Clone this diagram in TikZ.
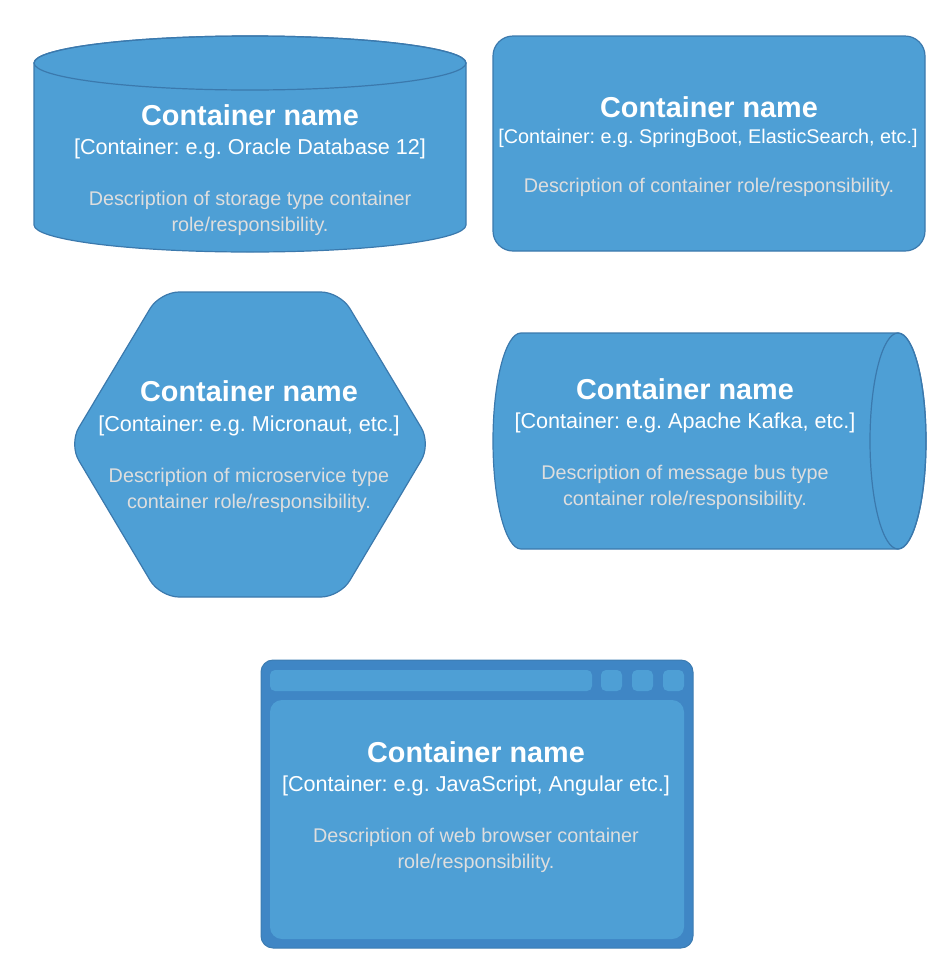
\documentclass[tikz,border=0pt]{standalone}
\usepackage{fontspec}
\setmainfont{Liberation Sans}
\frenchspacing
\definecolor{boxfill}{HTML}{4E9FD5}
\definecolor{boxline}{HTML}{3B79AD}
\definecolor{winfill}{HTML}{3F86C5}
\definecolor{descgray}{HTML}{DEDEDE}
\tikzset{
  shapebox/.style={fill=boxfill, draw=boxline, line width=1.2pt},
  ttl/.style={anchor=base, inner sep=0pt, text=white, font=\fontsize{28.8}{32}\selectfont\bfseries},
  tech/.style={anchor=base, inner sep=0pt, text=white, font=\fontsize{21.6}{24}\selectfont},
  techsmall/.style={tech, font=\fontsize{19.8}{22}\selectfont},
  desc/.style={anchor=base, inner sep=0pt, text=descgray, font=\fontsize{19.8}{22}\selectfont},
  winpart/.style={fill=boxfill, draw=none},
}
\begin{document}
\begin{tikzpicture}[x=1pt,y=-1pt]
\useasboundingbox (0,0) rectangle (940,970);

% ---------- storage cylinder ----------
\path[shapebox] (34,63) -- (34,225) arc[start angle=180, end angle=0, x radius=216, y radius=27]
  -- (466,63) arc[start angle=0, end angle=-180, x radius=216, y radius=27] -- cycle;
\draw[boxline, line width=1.2pt] (250,63) ellipse [x radius=216, y radius=27];
\node[ttl]  (dbtitle) at (250,125) {Container name};
\node[tech] (dbtech)  at (250,154) {[Container: e.g. Oracle Database 12]};
\node[desc] (dbdesca) at (250,205) {Description of storage type container};
\node[desc] (dbdescb) at (250,231) {role/responsibility.};

% ---------- rounded rectangle ----------
\draw[shapebox, rounded corners=20pt] (493,36) rectangle (925,251);
\node[ttl]  (svtitle) at (709,117) {Container name};
\node[techsmall] (svtech)  at (708,143) {[Container: e.g. SpringBoot, ElasticSearch, etc.]};
\node[desc] (svdesc)  at (709,192) {Description of container role/responsibility.};

% ---------- hexagon ----------
\draw[shapebox, rounded corners=19pt] (69,444) -- (160,292) -- (340,292) -- (431,444)
  -- (340,597) -- (160,597) -- cycle;
\node[ttl]  (mstitle) at (249,401) {Container name};
\node[tech] (mstech)  at (249,431) {[Container: e.g. Micronaut, etc.]};
\node[desc] (msdesca) at (249,482) {Description of microservice type};
\node[desc] (msdescb) at (249,508) {container role/responsibility.};

% ---------- horizontal cylinder ----------
\path[shapebox] (521,333) -- (898,333) arc[start angle=-90, end angle=90, x radius=28, y radius=108]
  -- (521,549) arc[start angle=90, end angle=270, x radius=28, y radius=108] -- cycle;
\draw[boxline, line width=1.2pt] (898,441) ellipse [x radius=28, y radius=108];
\node[ttl]  (mqtitle) at (685,399) {Container name};
\node[tech] (mqtech)  at (685,428) {[Container: e.g. Apache Kafka, etc.]};
\node[desc] (mqdesca) at (685,479) {Description of message bus type};
\node[desc] (mqdescb) at (685,505) {container role/responsibility.};

% ---------- web browser ----------
\draw[fill=winfill, draw=boxline!80!winfill, line width=1pt, rounded corners=12pt] (261,660) rectangle (693,948);
\fill[winpart, rounded corners=5pt] (270,670) rectangle (592,691);
\fill[winpart, rounded corners=5pt] (601,670) rectangle (622,691);
\fill[winpart, rounded corners=5pt] (632,670) rectangle (653,691);
\fill[winpart, rounded corners=5pt] (663,670) rectangle (684,691);
\fill[winpart, rounded corners=12pt] (270,700) rectangle (684,939);
\node[ttl]  (wbtitle) at (476,762) {Container name};
\node[tech] (wbtech)  at (476,791) {[Container: e.g. JavaScript, Angular etc.]};
\node[desc] (wbdesca) at (476,842) {Description of web browser container};
\node[desc] (wbdescb) at (476,868) {role/responsibility.};
\end{tikzpicture}
\end{document}
